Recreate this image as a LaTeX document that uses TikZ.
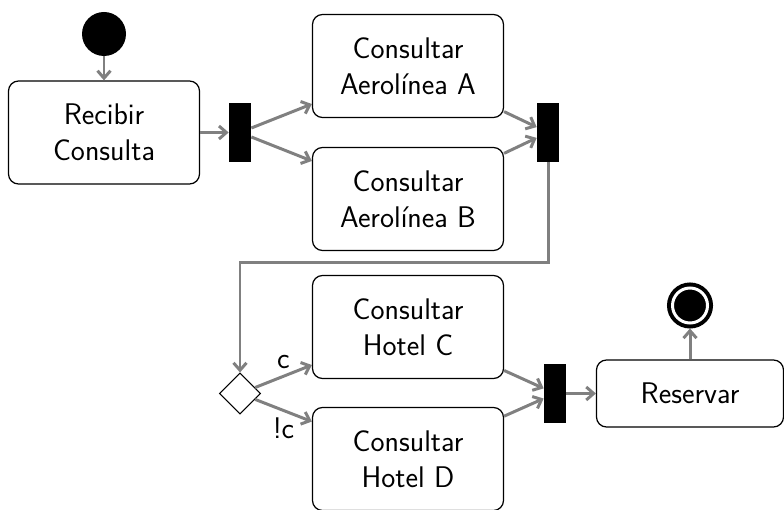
\documentclass[tikz,border=0pt]{standalone}
\usepackage{fontspec}
\usetikzlibrary{positioning, shapes.geometric, arrows.meta}
\tikzset{
    ->, % all flows are directed
    >={Straight Barb[length=4.2pt, width=7.4pt]}, % open arrow heads
    on grid, % node distances are measured centre to centre
    node distance=2cm,
    every node/.style={font=\sffamily\fontsize{17}{20.2}\selectfont},
    activity/.style={draw, rounded corners=0.2cm, line width=0.7pt, minimum width=3.82cm, minimum height=2.06cm, align=center}, % action boxes
    bar/.style={fill=black, inner sep=0pt, minimum width=0.44cm, minimum height=1.17cm}, % fork and join bars
    decision/.style={diamond, draw, line width=0.6pt, inner sep=0pt, minimum size=0.82cm},
    startdot/.style={circle, fill=black, inner sep=0pt, minimum size=0.88cm},
    enddot/.style={circle, draw=black, fill=black, double=white, line width=0.08cm, double distance=0.06cm, inner sep=0pt, minimum size=0.7cm, outer sep=0.11cm},
    flow/.style={draw=gray, line width=1.7pt}, % the gray connectors
}
\begin{document}
\begin{tikzpicture}
        \useasboundingbox (0,0) rectangle (15.68,-10.2);

        % Nodes here
        % \node[<options>] (name) {text label};
        \node[startdot] (start) at (2.08,-0.68) {};
        \node[activity, below=1.97cm of start] (recv) {Recibir\\Consulta};
        \node[bar, right=2.72cm of recv] (fork) {};
        \node[activity, above right=1.33cm and 3.36cm of fork] (aeroA) {Consultar\\Aerolínea A};
        \node[activity, below right=1.33cm and 3.36cm of fork] (aeroB) {Consultar\\Aerolínea B};
        \node[bar, right=6.16cm of fork] (join) {};
        \node[decision, below=5.22cm of fork] (dec) {};
        \node[activity, above right=1.33cm and 3.36cm of dec] (hotelC) {Consultar\\Hotel C};
        \node[activity, below right=1.31cm and 3.36cm of dec] (hotelD) {Consultar\\Hotel D};
        \node[bar, right=6.3cm of dec] (merge) {};
        \node[activity, minimum width=3.74cm, minimum height=1.34cm, right=2.7cm of merge] (book) {Reservar};
        \node[enddot, above=1.76cm of book] (stop) {};

        % draw Edges
        % \draw (<source node>) edge[<edge options>] node{<edge label>} (<dest node>);
        \draw[flow] (start) edge (recv)
                (recv)  edge (fork)
                (fork)  edge (aeroA)
                        edge (aeroB)
                (aeroA) edge (join)
                (aeroB) edge (join)
                (dec)   edge node[above]{c} (hotelC)
                        edge node[below]{!c} (hotelD)
                (hotelC) edge (merge)
                (hotelD) edge (merge)
                (merge) edge (book)
                (book)  edge (stop)
                ;
        \draw[flow] (join.south) -- ++(0,-2) -| (dec.north);
\end{tikzpicture}
\end{document}
